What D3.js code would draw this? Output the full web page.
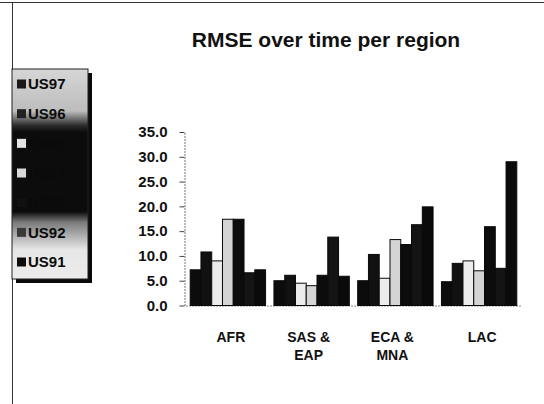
<!DOCTYPE html>
<html>
<head>
<meta charset="utf-8">
<script src="https://cdnjs.cloudflare.com/ajax/libs/d3/7.8.5/d3.min.js"></script>
<style>
  body { margin: 0; background: #fff; }
  svg { display: block; font-family: "Liberation Sans", Arial, sans-serif; }
</style>
</head>
<body>
<script>
const regions = ["AFR", "SAS & EAP", "ECA & MNA", "LAC"]
const series = ["US97", "US96", "US95", "US94", "US93", "US92", "US91"]
const yTicks = [0, 5, 10, 15, 20, 25, 30, 35]

// RMSE per series, one value per region (AFR, SAS & EAP, ECA & MNA, LAC)
const us97 = [7.2, 5.0, 5.0, 4.8]
const us96 = [10.8, 6.1, 10.3, 8.5]
const us95 = [9.0, 4.5, 5.5, 9.0]
const us94 = [17.4, 4.0, 13.3, 7.0]
const us93 = [17.4, 6.1, 12.3, 15.9]
const us92 = [6.6, 13.8, 16.3, 7.5]
const us91 = [7.2, 5.9, 19.9, 29.0]

const values = [us97, us96, us95, us94, us93, us92, us91]
const fills = ["#0c0c0c", "#111", "#ececec", "#d4d4d4", "#0c0c0c", "#141414", "#0a0a0a"]
const legendBoxes = ["#1a1a1a", "#222", "#e4e4e4", "#d8d8d8", "#111", "#3a3a3a", "#0c0c0c"]

const svgWidth = 544
const svgHeight = 404

const svg = d3.select("body").append("svg")
  .attr("width", svgWidth)
  .attr("height", svgHeight)

// frame lines of the scanned chart area
svg.append("line").attr("x1", 0).attr("x2", svgWidth).attr("y1", 2.5).attr("y2", 2.5)
  .attr("stroke", "#333").attr("stroke-width", 1)
svg.append("line").attr("x1", 12.5).attr("x2", 12.5).attr("y1", 2).attr("y2", svgHeight)
  .attr("stroke", "#333").attr("stroke-width", 1)

svg.append("text")
  .attr("x", 326).attr("y", 47)
  .attr("text-anchor", "middle")
  .attr("font-size", 21).attr("font-weight", "bold").attr("fill", "#111")
  .text("RMSE over time per region")

const x0 = d3.scaleBand()
  .domain(regions)
  .range([186, 521])
  .paddingInner(0.1)
  .paddingOuter(0.05)

const x1 = d3.scaleBand()
  .domain(series)
  .range([0, x0.bandwidth()])

const y = d3.scaleLinear()
  .domain([0, 35])
  .range([305.5, 132])

const yAxis = d3.axisLeft(y)
  .tickValues(yTicks)
  .tickFormat(d3.format(".1f"))
  .tickSizeInner(5)
  .tickSizeOuter(0)
  .tickPadding(12)

const yG = svg.append("g")
  .attr("transform", `translate(${x0.range()[0] - 1.5}, 0)`)
  .call(yAxis)
yG.select(".domain").attr("stroke", "#777").attr("stroke-dasharray", "2,1")
yG.selectAll(".tick line").attr("stroke", "#444")
yG.selectAll(".tick text")
  .attr("font-size", 15).attr("font-weight", "bold").attr("fill", "#111")
  .attr("font-family", "Liberation Sans, Arial, sans-serif")

svg.append("line")
  .attr("x1", x0.range()[0]).attr("x2", x0.range()[1])
  .attr("y1", y(0) + 0.5).attr("y2", y(0) + 0.5)
  .attr("stroke", "#888").attr("stroke-dasharray", "2,1")

const groups = svg.selectAll("g.region")
  .data(regions)
  .enter()
  .append("g")
  .attr("class", "region")
  .attr("transform", d => `translate(${x0(d)}, 0)`)

groups.selectAll("rect")
  .data((d, i) => series.map((s, j) => ({ s: s, j: j, v: values[j][i] })))
  .enter()
  .append("rect")
  .attr("x", d => x1(d.s))
  .attr("y", d => y(d.v))
  .attr("width", x1.bandwidth())
  .attr("height", d => y(0) - y(d.v))
  .attr("fill", d => fills[d.j])
  .attr("stroke", "#0a0a0a")
  .attr("stroke-width", 1)

// category labels, wrapped after "&" as in the original
const catLabels = svg.selectAll("text.cat")
  .data(regions)
  .enter()
  .append("text")
  .attr("class", "cat")
  .attr("text-anchor", "middle")
  .attr("font-size", 14).attr("font-weight", "bold").attr("fill", "#111")
  .attr("x", d => x0(d) + x0.bandwidth() / 2)
  .attr("y", 342)

catLabels.each(function(d) {
  const parts = d.includes("&") ? [d.slice(0, d.indexOf("&") + 1), d.slice(d.indexOf("&") + 2)] : [d]
  const t = d3.select(this)
  parts.forEach((p, k) => {
    t.append("tspan")
      .attr("x", x0(d) + x0.bandwidth() / 2 + (parts.length > 1 ? -3 : 3))
      .attr("dy", k === 0 ? 0 : 18)
      .text(p)
  })
})

// legend
const defs = svg.append("defs")
const grad = defs.append("linearGradient")
  .attr("id", "legbg").attr("x1", 0).attr("x2", 0).attr("y1", 0).attr("y2", 1)
const stops = [[0, "#d6d6d6"], [0.2, "#bdbdbd"], [0.27, "#2a2a2a"], [0.3, "#0c0c0c"],
  [0.68, "#0c0c0c"], [0.73, "#7a7a7a"], [0.8, "#b4b4b4"], [0.86, "#e6e6e6"], [1, "#ececec"]]
grad.selectAll("stop").data(stops).enter().append("stop")
  .attr("offset", d => d[0]).attr("stop-color", d => d[1])

const legend = svg.append("g").attr("transform", "translate(12, 69)")
legend.append("rect")
  .attr("x", 4).attr("y", 4).attr("width", 76).attr("height", 210)
  .attr("fill", "#0a0a0a")
legend.append("rect")
  .attr("x", 0).attr("y", 0).attr("width", 76).attr("height", 210)
  .attr("fill", "url(#legbg)").attr("stroke", "#222")

const ly = d3.scalePoint().domain(series).range([15, 193])

const items = legend.selectAll("g.item")
  .data(series)
  .enter()
  .append("g")
  .attr("class", "item")
  .attr("transform", d => `translate(0, ${ly(d)})`)

items.append("rect")
  .attr("x", 5).attr("y", -4.5).attr("width", 9).attr("height", 9)
  .attr("fill", (d, i) => legendBoxes[i])

items.append("text")
  .attr("x", 16).attr("y", 0).attr("dy", "0.36em")
  .attr("font-size", 15).attr("font-weight", "bold").attr("fill", "#0a0a0a")
  .text(d => d)
</script>
</body>
</html>
